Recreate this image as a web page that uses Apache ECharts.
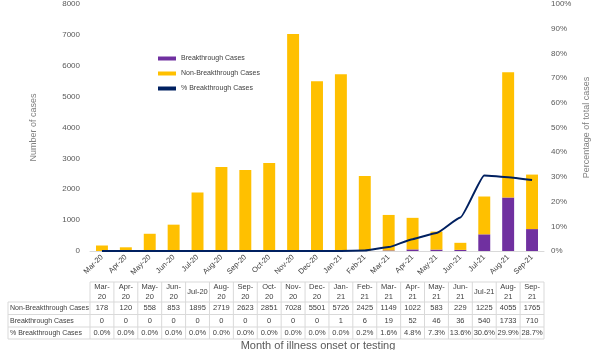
<!DOCTYPE html>
<html>
<head>
<meta charset="utf-8">
<script src="https://cdn.jsdelivr.net/npm/echarts@6/dist/echarts.min.js"></script>
<style>html,body{margin:0;padding:0;background:#fff}#c{width:600px;height:350px}</style>
</head>
<body>
<div id="c"></div>
<script>
var categories = ['Mar-20','Apr-20','May-20','Jun-20','Jul-20','Aug-20','Sep-20','Oct-20','Nov-20','Dec-20','Jan-21','Feb-21','Mar-21','Apr-21','May-21','Jun-21','Jul-21','Aug-21','Sep-21'];
var headerLabels = ['Mar-\n20','Apr-\n20','May-\n20','Jun-\n20','Jul-20','Aug-\n20','Sep-\n20','Oct-\n20','Nov-\n20','Dec-\n20','Jan-\n21','Feb-\n21','Mar-\n21','Apr-\n21','May-\n21','Jun-\n21','Jul-21','Aug-\n21','Sep-\n21'];
var nonBreakthrough = [178,120,558,853,1895,2719,2623,2851,7028,5501,5726,2425,1149,1022,583,229,1225,4055,1765];
var breakthrough = [0,0,0,0,0,0,0,0,0,0,1,6,19,52,46,36,540,1733,710];
var pctBreakthrough = [0,0,0,0,0,0,0,0,0,0,0,0.2,1.6,4.8,7.3,13.6,30.6,29.9,28.7];
var rowNames = ['Non-Breakthrough Cases','Breakthrough Cases','% Breakthrough Cases'];

var chart = echarts.init(document.getElementById('c'), null, {renderer:'canvas'});
var font = '"Liberation Sans", Arial, sans-serif';
var option = {
  animation:false,
  textStyle:{fontFamily:font},
  grid:{left:90,right:56,top:3,bottom:99,containLabel:false},
  legend:{
    orient:'vertical', left:153, top:50, itemGap:8, itemWidth:18, itemHeight:4,
    textStyle:{fontSize:7,color:'#404040',fontFamily:font},
    data:[
      {name:'Breakthrough Cases', icon:'rect'},
      {name:'Non-Breakthrough Cases', icon:'rect'},
      {name:'% Breakthrough Cases', icon:'rect'}
    ]
  },
  xAxis:{
    type:'category', data:categories, boundaryGap:true,
    axisLine:{lineStyle:{color:'#d9d9d9'}},
    axisTick:{show:false},
    axisLabel:{rotate:45, fontSize:7.5, color:'#404040', margin:5, interval:0}
  },
  yAxis:[
    {type:'value', min:0, max:8000, interval:1000,
     name:'Number of cases', nameLocation:'middle', nameGap:52, nameRotate:90,
     nameTextStyle:{fontSize:9,color:'#7f7f7f'},
     axisLabel:{fontSize:8,color:'#595959',margin:10,formatter:function(v){return String(v);}},
     axisLine:{show:false}, axisTick:{show:false}, splitLine:{show:false}},
    {type:'value', min:0, max:100, interval:10,
     name:'Percentage of total cases', nameLocation:'middle', nameGap:38, nameRotate:90,
     nameTextStyle:{fontSize:9,color:'#7f7f7f'},
     axisLabel:{fontSize:8,color:'#595959',margin:7,formatter:'{value}%'},
     axisLine:{show:false}, axisTick:{show:false}, splitLine:{show:false}}
  ],
  series:[
    {name:'Breakthrough Cases', type:'bar', stack:'c', data:breakthrough, barWidth:'50%',
     itemStyle:{color:'#7030A0'}},
    {name:'Non-Breakthrough Cases', type:'bar', stack:'c', data:nonBreakthrough, barWidth:'50%',
     itemStyle:{color:'#FFC000'}},
    {name:'% Breakthrough Cases', type:'line', yAxisIndex:1, data:pctBreakthrough,
     smooth:0.15, smoothMonotone:'x', showSymbol:false, symbol:'none',
     lineStyle:{color:'#002060',width:2}, itemStyle:{color:'#002060'}, z:5}
  ]
};
chart.setOption(option);

// Data table under the chart, aligned to the category axis
var x0 = chart.convertToPixel({xAxisIndex:0}, 0);
var x1 = chart.convertToPixel({xAxisIndex:0}, 1);
var step = x1 - x0;
var tableLeft = 8;
var colStart = x0 - step/2;
var colEnd = colStart + step*categories.length;
var rowY = [282, 302, 314.5, 327, 339];
var els = [];
var bc = '#d9d9d9';
for (var r=0;r<rowY.length;r++){
  var xs = r===0 ? colStart : tableLeft;
  els.push({type:'line', shape:{x1:xs,y1:rowY[r],x2:colEnd,y2:rowY[r]}, style:{stroke:bc,lineWidth:1}});
}
els.push({type:'line', shape:{x1:tableLeft,y1:rowY[1],x2:tableLeft,y2:rowY[4]}, style:{stroke:bc,lineWidth:1}});
for (var i=0;i<=categories.length;i++){
  var xv = colStart + step*i;
  els.push({type:'line', shape:{x1:xv,y1:rowY[0],x2:xv,y2:rowY[4]}, style:{stroke:bc,lineWidth:1}});
}
var tf = {fontSize:7.5, fill:'#404040', fontFamily:font};
for (var i=0;i<categories.length;i++){
  var cx = chart.convertToPixel({xAxisIndex:0}, i);
  els.push({type:'text', x:cx, y:(rowY[0]+rowY[1])/2, style:Object.assign({text:headerLabels[i], align:'center', verticalAlign:'middle', lineHeight:10}, tf)});
  var vals = [String(nonBreakthrough[i]), String(breakthrough[i]), pctBreakthrough[i].toFixed(1)+'%'];
  for (var r=0;r<3;r++){
    els.push({type:'text', x:cx, y:(rowY[r+1]+rowY[r+2])/2, style:Object.assign({text:vals[r], align:'center', verticalAlign:'middle'}, tf)});
  }
}
for (var r=0;r<3;r++){
  els.push({type:'text', x:tableLeft+2, y:(rowY[r+1]+rowY[r+2])/2, style:{text:rowNames[r], align:'left', verticalAlign:'middle', fontSize:7, fill:'#404040', fontFamily:font}});
}
els.push({type:'text', x:318, y:346, style:{text:'Month of illness onset or testing', align:'center', verticalAlign:'middle', fontSize:11, fill:'#595959', fontFamily:font}});
chart.setOption({graphic:{elements:els}});
</script>
</body>
</html>
